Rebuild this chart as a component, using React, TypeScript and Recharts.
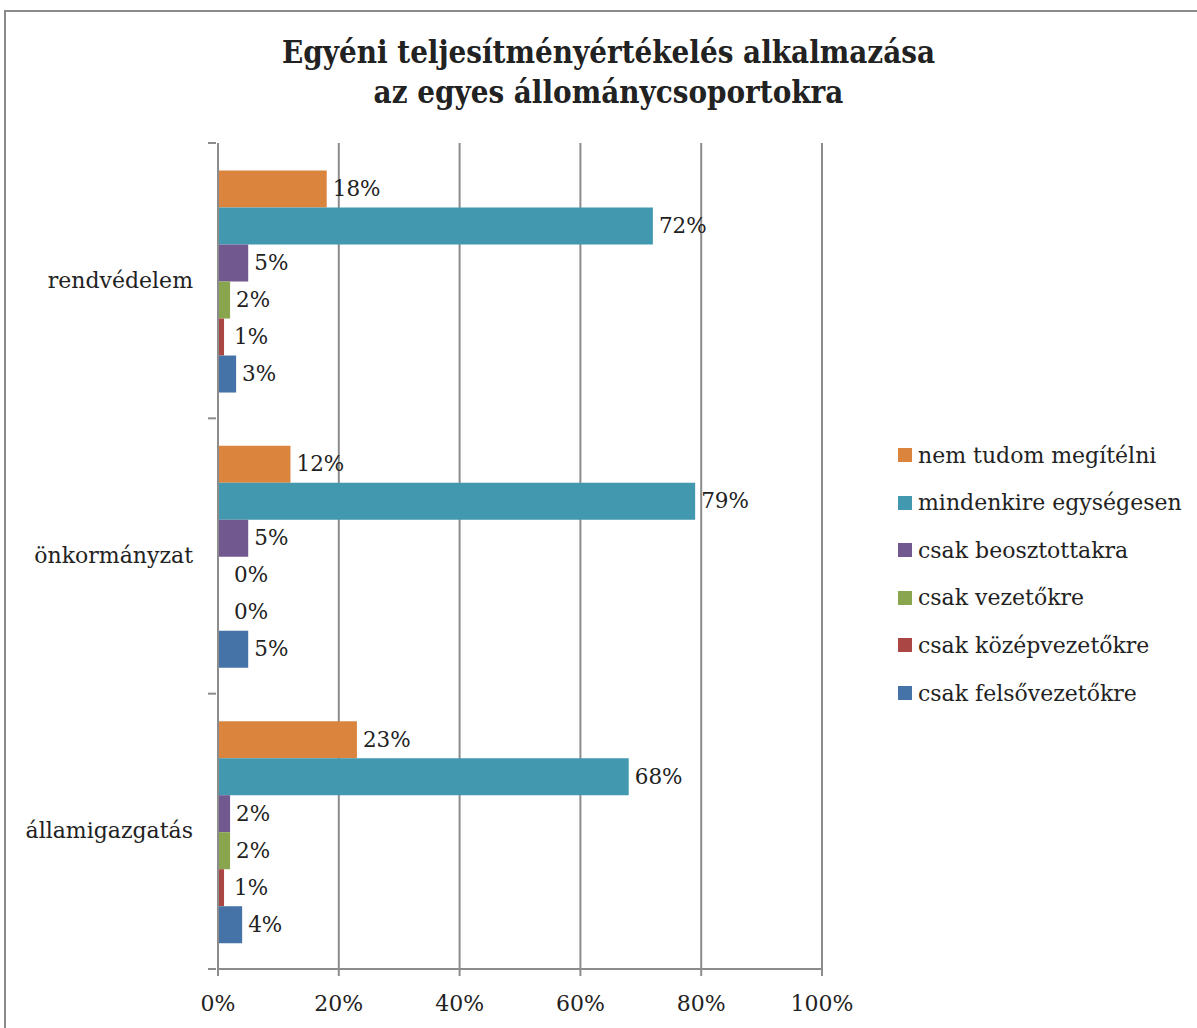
import { BarChart, Bar, XAxis, YAxis, CartesianGrid, LabelList } from "recharts";

const categories = ["rendvédelem", "önkormányzat", "államigazgatás"];

const seriesNames = [
  "nem tudom megítélni",
  "mindenkire egységesen",
  "csak beosztottakra",
  "csak vezetőkre",
  "csak középvezetőkre",
  "csak felsővezetőkre",
];

const seriesColors = ["#DB843D", "#4198AF", "#71588F", "#89A54E", "#AA4643", "#4572A7"];

// értékek százalékban, kategóriák sorrendjében
const nemTudom = [18, 12, 23];
const mindenkire = [72, 79, 68];
const beosztottakra = [5, 5, 2];
const vezetokre = [2, 0, 2];
const kozepvezetokre = [1, 0, 1];
const felsovezetokre = [3, 5, 4];

const xTicks = [0, 20, 40, 60, 80, 100];

const seriesValues = [nemTudom, mindenkire, beosztottakra, vezetokre, kozepvezetokre, felsovezetokre];

const rows = categories.map((name, i) => {
  const row: Record<string, string | number> = { name };
  seriesNames.forEach((s, j) => {
    row[s] = seriesValues[j][i];
  });
  return row;
});

const FONT = "'DejaVu Serif', serif";
const GRID = "#8c8c8c";

function CategoryTick(props: any) {
  const { x, y, payload, index, visibleTicksCount } = props;
  const half = payload.offset ?? 0;
  const last = index === (visibleTicksCount ?? categories.length) - 1;
  return (
    <g>
      <line x1={x - 8} x2={x} y1={y - half} y2={y - half} stroke={GRID} strokeWidth={2} />
      {last && <line x1={x - 8} x2={x} y1={y + half} y2={y + half} stroke={GRID} strokeWidth={2} />}
      <text x={x - 23} y={y} dy={7} textAnchor="end" fontFamily={FONT} fontSize={22} fill="#222">
        {payload.value}
      </text>
    </g>
  );
}

function ValueLabel(props: any) {
  const vb = props.viewBox || {};
  const x = Number(props.x ?? vb.x) || 0;
  const y = Number(props.y ?? vb.y) || 0;
  const width = Number(props.width ?? vb.width) || 0;
  const height = Number(props.height ?? vb.height) || 0;
  const lx = Math.max(x + width + 6, x + 16);
  return (
    <text x={lx} y={y + height / 2} dy={7} fontFamily={FONT} fontSize={21.5} fill="#222">
      {props.value}%
    </text>
  );
}

// a 0 értékű sávok címkéje is megjelenjen (a sáv maga láthatatlan marad)
const zeroPoint = (v: any) => (v === 0 ? 0.01 : 0);

export default function App() {
  return (
    <div style={{ position: "absolute", left: 0, top: 0, width: 1197, height: 1028, background: "#fff", overflow: "hidden" }}>
      <div
        style={{
          position: "absolute",
          left: 4,
          top: 10,
          width: 1200,
          height: 1030,
          borderLeft: "2px solid #8a8a8a",
          borderTop: "2px solid #8a8a8a",
        }}
      />
      <div
        style={{
          position: "absolute",
          left: 0,
          top: 32,
          width: 1217,
          textAlign: "center",
          fontFamily: "'DejaVu Serif Condensed', 'DejaVu Serif', serif",
          fontStretch: "condensed",
          fontWeight: "bold",
          fontSize: 31,
          lineHeight: "40px",
          color: "#222",
        }}
      >
        Egyéni teljesítményértékelés alkalmazása
        <br />
        az egyes állománycsoportokra
      </div>
      <div style={{ position: "absolute", left: 0, top: 0 }}>
        <BarChart
          width={1197}
          height={1028}
          data={rows}
          layout="vertical"
          margin={{ top: 143, right: 375, bottom: 0, left: 0 }}
          barCategoryGap="10%"
          barGap={0}
        >
          <CartesianGrid horizontal={false} stroke={GRID} strokeWidth={2} />
          <XAxis
            type="number"
            domain={[0, 100]}
            ticks={xTicks}
            tickFormatter={(v) => `${v}%`}
            height={59}
            tickSize={7}
            tickMargin={19}
            stroke={GRID}
            strokeWidth={2}
            tick={{ fontFamily: FONT, fontSize: 22, fill: "#222" }}
          />
          <YAxis
            type="category"
            dataKey="name"
            width={218}
            tickSize={0}
            tickLine={false}
            stroke={GRID}
            strokeWidth={2}
            tick={<CategoryTick />}
          />
          {seriesNames.map((s, j) => (
            <Bar key={s} dataKey={s} fill={seriesColors[j]} minPointSize={zeroPoint} isAnimationActive={false}>
              <LabelList dataKey={s} content={<ValueLabel />} />
            </Bar>
          ))}
        </BarChart>
      </div>
      {seriesNames.map((s, j) => (
        <div
          key={s}
          style={{
            position: "absolute",
            left: 898,
            top: 455 + j * 47.6 - 14,
            height: 28,
            display: "flex",
            alignItems: "center",
            fontFamily: FONT,
            fontSize: 22,
            color: "#222",
            whiteSpace: "nowrap",
          }}
        >
          <span style={{ display: "inline-block", width: 14, height: 14, background: seriesColors[j], marginRight: 6 }} />
          {s}
        </div>
      ))}
    </div>
  );
}
